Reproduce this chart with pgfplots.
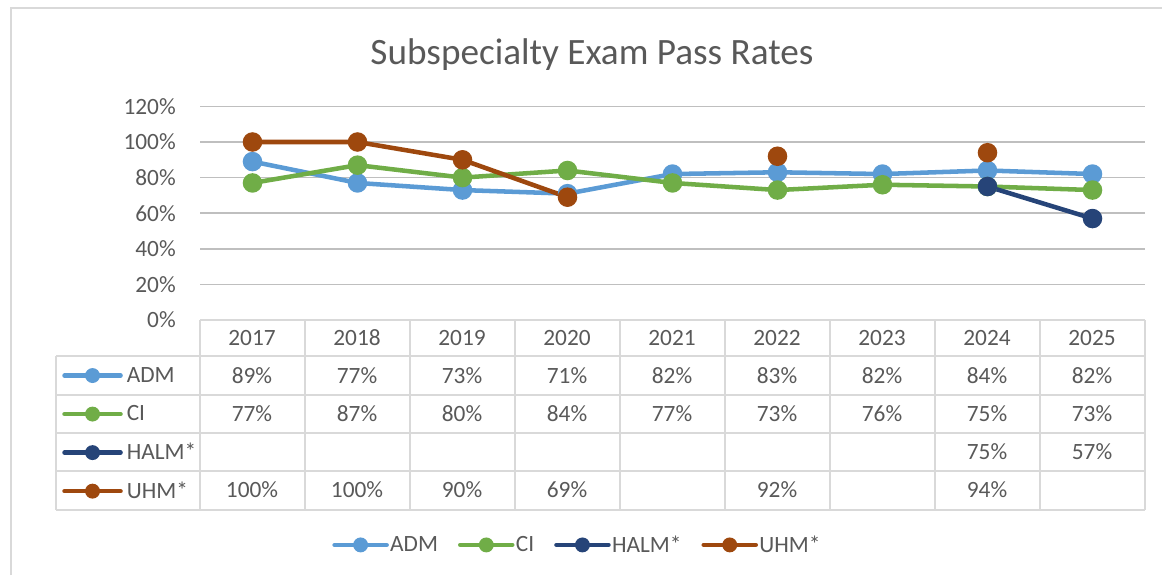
\documentclass[border=0pt]{standalone}
\usepackage{pgfplots}
\pgfplotsset{compat=1.18}
\usepackage{fontspec}
\setmainfont{Carlito}
\definecolor{adm}{HTML}{5B9BD5}
\definecolor{ci}{HTML}{70AD47}
\definecolor{halm}{HTML}{264478}
\definecolor{uhm}{HTML}{9E480E}
\definecolor{grid}{HTML}{D9D9D9}
\definecolor{txt}{HTML}{595959}
\pgfplotstableread{
x adm ci halm uhm
0 89 77 nan 100
1 77 87 nan 100
2 73 80 nan 90
3 71 84 nan 69
4 82 77 nan nan
5 83 73 nan 92
6 82 76 nan nan
7 84 75 75 94
8 82 73 57 nan
}\data
\pgfplotsset{
  keyimg/.style={legend image code/.code={
    \draw[line width=3.4pt, line cap=round, mark=none] (0pt,0pt) -- (#1,0pt);
    \fill[draw=none] (#1/2,0pt) circle (5.6pt);}},
}
\begin{document}
\begin{tikzpicture}[x=0.75pt,y=-0.75pt]
\path[use as bounding box] (0,0) rectangle (1162,575);
\draw[grid, line width=1.5pt] (11,575) -- (11,8) -- (1162,8);
\node[txt, font=\fontsize{27.9}{30}\selectfont, anchor=base] at (592,64) {Subspecialty Exam Pass Rates};
\begin{axis}[
  at={(150pt,-240pt)}, anchor=south west,
  width=708.75pt, height=160.2pt, scale only axis,
  xmin=-0.5, xmax=8.5, ymin=0, ymax=120,
  xtick=\empty,
  ytick={0,20,...,120},
  yticklabel={\pgfmathprintnumber{\tick}\%},
  /pgf/number format/assume math mode=true,
  yticklabel style={font=\fontsize{17.5}{20}\selectfont, text=txt, inner sep=0pt, xshift=-18pt},
  major tick length=0pt,
  ymajorgrids, grid style={grid, line width=1.1pt},
  axis line style={draw=none},
  unbounded coords=jump,
  clip=false,
  every axis plot/.append style={line width=3.4pt, mark=*, mark size=5.6pt},
  legend columns=4,
  legend style={at={(0.399,-1.053)}, anchor=center, draw=none, fill=none,
    font=\fontsize{17.5}{20}\selectfont, text=txt,
    /tikz/every even column/.append style={column sep=14pt},
    nodes={inner sep=1pt}},
  keyimg=39pt,
]
\addplot[adm, mark options={draw=none, fill=adm}] table[x=x,y=adm] {\data};
\addplot[ci, mark options={draw=none, fill=ci}] table[x=x,y=ci] {\data};
\addplot[halm, mark options={draw=none, fill=halm}] table[x=x,y=halm] {\data};
\addplot[uhm, mark options={draw=none, fill=uhm}] table[x=x,y=uhm] {\data};
\legend{ADM,CI,HALM*,UHM*}
\end{axis}
\begin{axis}[
  at={(46.5pt,-267pt)}, anchor=north west,
  width=10pt, height=10pt, scale only axis, hide axis,
  xmin=0, xmax=1, ymin=0, ymax=1,
  legend columns=1,
  legend style={at={(0,1)}, anchor=north west, draw=none, fill=none,
    font=\fontsize{17.5}{20}\selectfont, text=txt, inner sep=0pt,
    row sep=0pt,
    nodes={inner sep=0pt, minimum height=28.9pt, anchor=west}},
  legend cell align=left,
  keyimg=42pt,
]
\addlegendimage{adm}
\addlegendentry{\hspace{3pt}ADM}
\addlegendimage{ci}
\addlegendentry{\hspace{3pt}CI}
\addlegendimage{halm}
\addlegendentry{\hspace{3pt}HALM*}
\addlegendimage{uhm}
\addlegendentry{\hspace{3pt}UHM*}
\end{axis}
% data table grid
\begin{scope}[grid, line width=1.5pt]
\draw (200,320) -- (1145,320);
\foreach \y in {356,395,433,471,510} \draw (56,\y) -- (1145,\y);
\draw (56,356) -- (56,510);
\foreach \k in {0,...,9} \draw (200+105*\k,320) -- (200+105*\k,510);
\end{scope}
\begin{scope}[every node/.style={txt, font=\fontsize{17.5}{20}\selectfont}]
\foreach \yr [count=\i from 0] in {2017,2018,2019,2020,2021,2022,2023,2024,2025}
  \node at (252+105*\i,338) {\yr};
\foreach \v [count=\i from 0] in {89,77,73,71,82,83,82,84,82}
  \node at (252+105*\i,376) {\v\%};
\foreach \v [count=\i from 0] in {77,87,80,84,77,73,76,75,73}
  \node at (252+105*\i,414) {\v\%};
\node at (252+105*7,452) {75\%};
\node at (252+105*8,452) {57\%};
\foreach \v/\i in {100/0,100/1,90/2,69/3,92/5,94/7}
  \node at (252+105*\i,490) {\v\%};
\end{scope}
\end{tikzpicture}
\end{document}
